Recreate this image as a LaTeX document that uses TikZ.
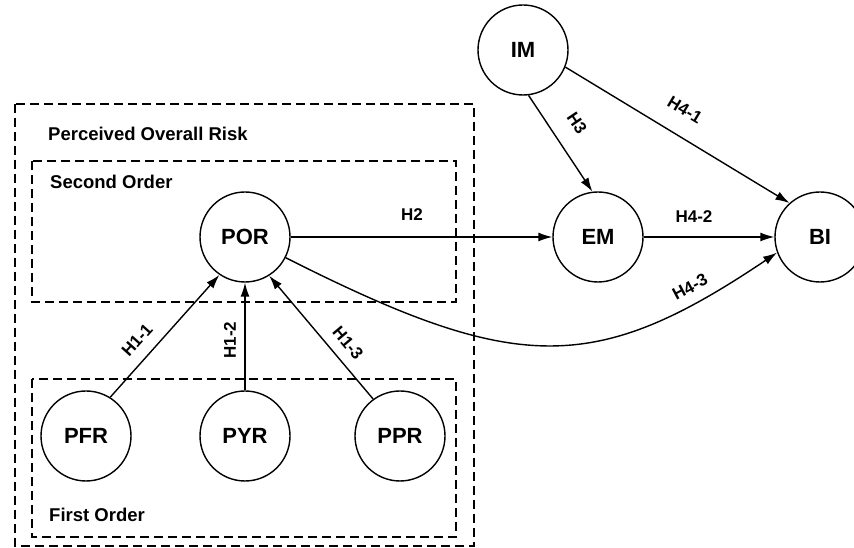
\documentclass[tikz,border=0pt]{standalone}
\usepackage{fontspec}
\setmainfont{Liberation Sans}
\usetikzlibrary{arrows.meta}
\begin{document}
\begin{tikzpicture}[x=1pt,y=1pt,
  construct/.style={circle,draw,line width=1.4pt,minimum size=90pt,inner sep=0pt,
    font=\fontsize{22}{24}\selectfont\bfseries},
  group/.style={draw,line width=1.4pt,dash pattern=on 9pt off 5pt},
  grouplabel/.style={anchor=west,inner sep=0pt,font=\fontsize{18.5}{20}\selectfont\bfseries},
  hyp/.style={inner sep=0pt,font=\fontsize{17}{19}\selectfont\bfseries},
  path/.style={line width=1.4pt,-{Latex[length=14pt,width=9pt]}}]
\useasboundingbox (0,0) rectangle (854,548);
% groups
\draw[group] (15,444) rectangle (474,2);
\draw[group] (32,387) rectangle (456,246);
\draw[group] (32,169) rectangle (456,11);
\node[grouplabel] (lPOR) at (48,414) {Perceived Overall Risk};
\node[grouplabel] (lSO) at (50,366) {Second Order};
\node[grouplabel] (lFO) at (49,33) {First Order};
% constructs
\node[construct] (POR) at (245,311) {POR};
\node[construct] (PFR) at (86,112) {PFR};
\node[construct] (PYR) at (245,112) {PYR};
\node[construct] (PPR) at (400,112) {PPR};
\node[construct] (IM) at (523,498) {IM};
\node[construct] (EM) at (598,311) {EM};
\node[construct] (BI) at (820,311) {BI};
% paths
\draw[path] (PFR.58) -- (POR.236);
\draw[path] (PYR.north) -- (POR.south);
\draw[path] (PPR.126) -- (POR.302);
\draw[path] (POR.east) -- (EM.west);
\draw[path] (EM.east) -- (BI.west);
\draw[path] (IM.-83) -- (EM.97);
\draw[path] (IM.-22) -- (BI.132);
\draw[path] (POR.-27) .. controls (516,174) and (594,172) .. (BI.200);
% labels
\node[hyp,rotate=48] (h11) at (137,208) {H1-1};
\node[hyp,rotate=90] (h12) at (230,208) {H1-2};
\node[hyp,rotate=-50] (h13) at (348,205) {H1-3};
\node[hyp] (h2) at (412,333) {H2};
\node[hyp,rotate=-56] (h3) at (577,425) {H3};
\node[hyp,rotate=-31] (h41) at (685,438) {H4-1};
\node[hyp] (h42) at (694,331) {H4-2};
\node[hyp,rotate=28] (h43) at (690,261) {H4-3};
\end{tikzpicture}
\end{document}
